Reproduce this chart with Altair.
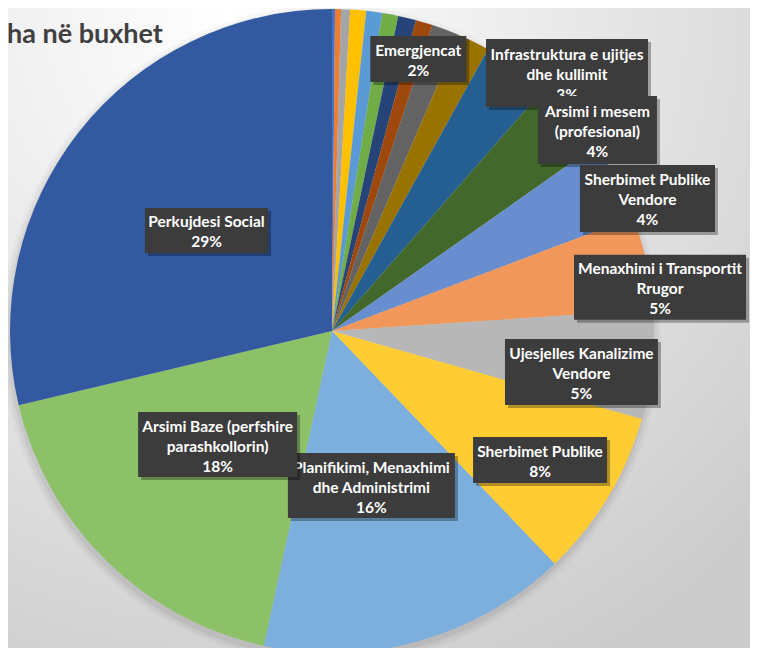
import math
import altair as alt
import pandas as pd

# ---- data (share of budget, %) ----
names = [
    "", "", "", "", "", "", "", "", "",
    "Emergjencat",
    "Infrastruktura  e ujitjes\ndhe kullimit",
    "Arsimi i  mesem\n(profesional)",
    "Sherbimet Publike\nVendore",
    "Menaxhimi i Transportit\nRrugor",
    "Ujesjelles Kanalizime\nVendore",
    "Sherbimet Publike",
    "Planifikimi, Menaxhimi\ndhe Administrimi",
    "Arsimi Baze (perfshire\nparashkollorin)",
    "Perkujdesi Social",
]
values = [0.15, 0.3, 0.45, 0.8, 0.8, 0.8, 0.9, 0.85, 1.4, 1.6,
          3.4, 3.8, 4.0, 4.7, 5.45, 8.45, 15.55, 17.9, 28.7]
colors = ["#4472C4", "#ED7D31", "#A5A5A5", "#FFC000", "#5B9BD5", "#70AD47",
          "#264478", "#9E480E", "#636363", "#997300", "#255E91", "#43682B",
          "#698ED0", "#F1975A", "#B7B7B7", "#FFCD33", "#7CAFDD", "#8CC168",
          "#335AA1"]
title_text = "ha në buxhet"

# ---- layout (pixels) ----
W, H = 742, 640
CX, CY, R = 324, 323, 322
LINE_H = 20
TEXT_DY = 2
# label placement: idx -> (distance from centre, angle nudge in deg, box w, box h)
label_layout = {
    9: (285.4, -8.5, 96, 46),
    10: (349.0, 7.23, 162, 68),
    11: (333.0, 4.8, 119, 68),
    12: (342.2, 5.1, 135, 67),
    13: (330.9, 4.65, 172, 65),
    14: (252.8, 3.3, 153, 66),
    15: (244.8, 0.75, 134, 46),
    16: (159.5, 1.45, 167, 65),
    17: (161.2, 0.75, 159, 65),
    18: (160.8, 0.35, 123, 45),
}

df = pd.DataFrame({"idx": list(range(len(values))), "value": values, "name": names})
total = sum(values)

# label table computed from the data (mid angle of each slice)
rows = []
cum = 0.0
for i, v in enumerate(values):
    start = cum / total * 360
    cum += v
    end = cum / total * 360
    if i in label_layout:
        r, dth, w, h = label_layout[i]
        mid = math.radians((start + end) / 2 + dth)
        lx = CX + r * math.sin(mid)
        ly = CY - r * math.cos(mid)
        pct = round(v / total * 100)
        text = f"{names[i]}\n{pct}%"
        nlines = text.count("\n") + 1
        rows.append({
            "idx": i,
            "text": text,
            "lx": lx, "ty": ly - (nlines - 1) * LINE_H / 2 + TEXT_DY,
            "bx1": lx - w / 2, "bx2": lx + w / 2,
            "by1": ly - h / 2, "by2": ly + h / 2,
            "sx1": lx - w / 2 + 3, "sx2": lx + w / 2 + 3,
            "sy1": ly - h / 2 + 3, "sy2": ly + h / 2 + 3,
        })
lab = pd.DataFrame(rows)

# ---- background ----
bg = alt.Chart(pd.DataFrame({"a": [0]})).mark_rect(
    fill={
        "gradient": "radial",
        "x1": 0.3, "y1": 0.08, "r1": 0.0,
        "x2": 0.3, "y2": 0.08, "r2": 1.0,
        "stops": [
            {"offset": 0.0, "color": "#ffffff"},
            {"offset": 0.3, "color": "#f1f1f1"},
            {"offset": 0.7, "color": "#dcdcdc"},
            {"offset": 1.0, "color": "#cbcbcb"},
        ],
    }
).encode(x=alt.value(0), x2=alt.value(W), y=alt.value(0), y2=alt.value(H))

title = alt.Chart(pd.DataFrame({"t": [title_text]})).mark_text(
    align="left", baseline="alphabetic", font="Lato", fontWeight="bold",
    fontSize=27, color="#404040"
).encode(text="t:N", x=alt.value(-1), y=alt.value(35))

# soft shadow under the pie
shadows = []
for dr, op in [(8, 0.025), (5, 0.035), (2, 0.05)]:
    shadows.append(
        alt.Chart(pd.DataFrame({"a": [0]})).mark_arc(
            radius=R + dr, theta=0, theta2=2 * math.pi, color="#000000", opacity=op
        ).encode(x=alt.value(CX - 1), y=alt.value(CY + 4))
    )

pie = alt.Chart(df).mark_arc(radius=R).encode(
    theta=alt.Theta("value:Q", stack=True),
    order=alt.Order("idx:Q", sort="ascending"),
    color=alt.Color("idx:N", scale=alt.Scale(domain=list(range(len(values))), range=colors), legend=None),
    x=alt.value(CX), y=alt.value(CY),
)

layers = [bg, title] + shadows + [pie]
base_lab = alt.Chart(lab)
for i in lab["idx"]:
    sel = base_lab.transform_filter(alt.datum.idx == int(i))
    layers.append(sel.mark_rect(color="#000000", opacity=0.3).encode(
        x=alt.X("sx1:Q", scale=None), x2="sx2:Q",
        y=alt.Y("sy1:Q", scale=None), y2="sy2:Q"))
    layers.append(sel.mark_rect(color="#3c3c3c").encode(
        x=alt.X("bx1:Q", scale=None), x2="bx2:Q",
        y=alt.Y("by1:Q", scale=None), y2="by2:Q"))
    layers.append(sel.mark_text(
        font="Lato", fontWeight="bold", fontSize=15.5, color="#ffffff",
        align="center", baseline="middle", lineBreak="\n", lineHeight=LINE_H
    ).encode(
        x=alt.X("lx:Q", scale=None), y=alt.Y("ty:Q", scale=None), text="text:N"))

chart = alt.layer(*layers).properties(
    width=W, height=H, padding=0, background="#ffffff", autosize="none"
).configure_view(stroke=None)

chart.save("out.html", embed_options={"renderer": "svg", "actions": False})
